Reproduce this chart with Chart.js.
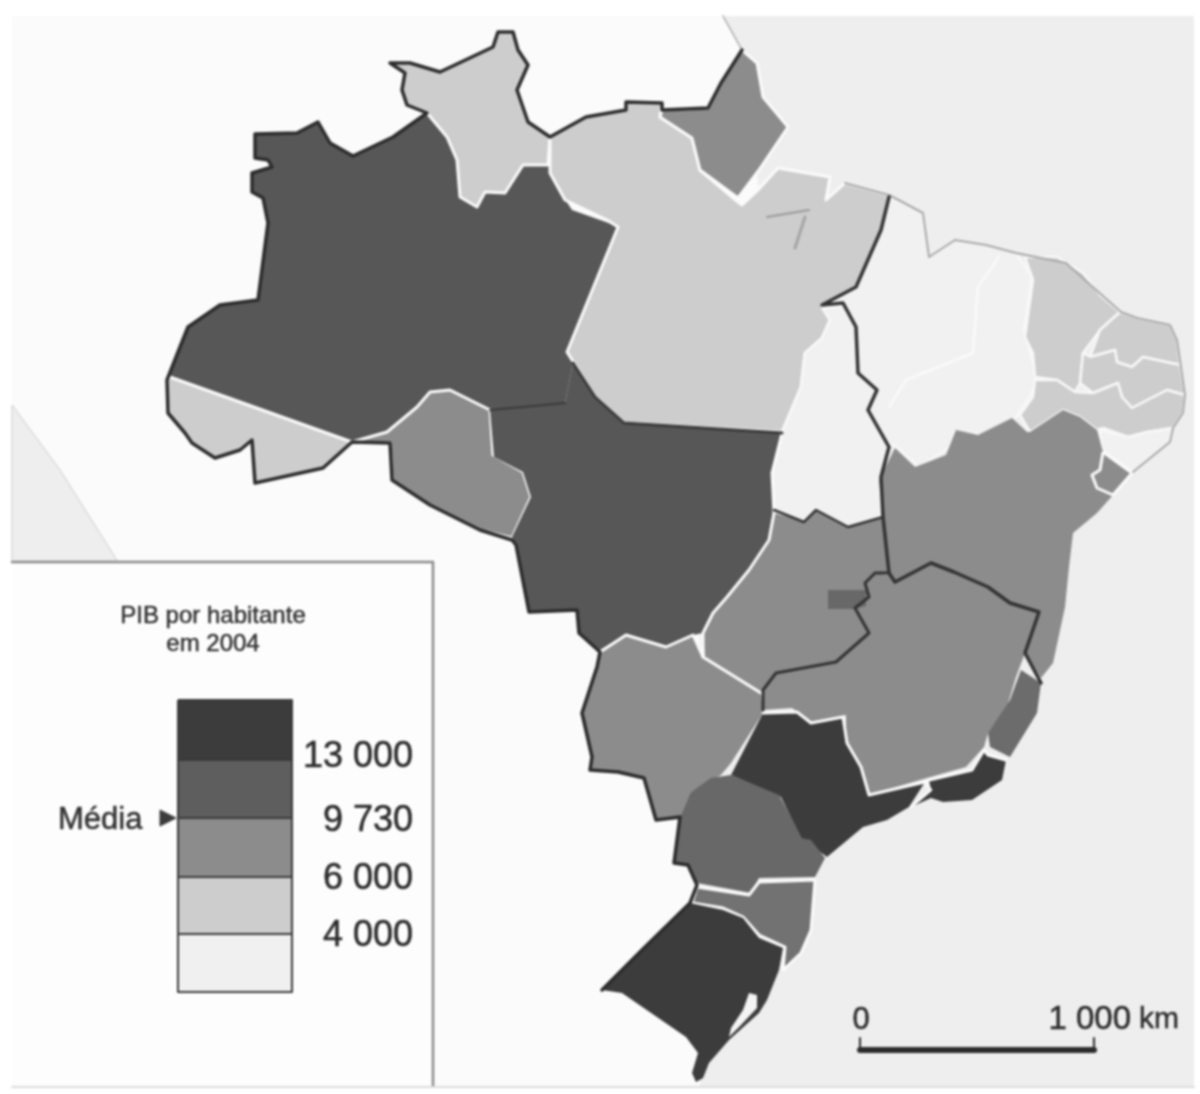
<!DOCTYPE html>
<html>
<head>
<meta charset="utf-8">
<title>PIB por habitante em 2004</title>
<style>
body { margin: 0; background: #fff; }
#mapa { display: block; width: 1200px; height: 1094px; filter: blur(1px); }
</style>
<script src="https://cdn.jsdelivr.net/npm/chart.js@4"></script>
</head>
<body>
<div id="mapa"><canvas id="chartMapa"></canvas></div>
<script>
// outlines, in picture units
const terra = [[12,16],[1194,16],[1194,1087],[12,1087]];
const oceano = [[723,16],[742,50],[760,200],[700,400],[700,1087],[1194,1087],[1194,16]];
const pacifico = [[12,405],[60,470],[118,562],[12,562]];
const caixaLegenda = [[12,562],[433,562],[433,1086],[12,1086]];
const amazonas = [[255,134],[297,133],[318,122],[330,143],[353,156],[393,137],[427,113],[447,137],[457,160],[460,197],[477,207],[485,192],[505,193],[523,165],[548,165],[557,187],[572,210],[620,227],[567,353],[573,363],[565,403],[490,410],[450,390],[430,392],[417,407],[387,432],[352,442],[170,377],[180,347],[188,327],[220,305],[258,300],[268,223],[263,198],[252,192],[252,173],[272,167],[268,160],[255,158]];
const roraima = [[427,113],[407,105],[402,90],[405,73],[390,63],[410,63],[440,72],[493,47],[498,32],[513,32],[518,50],[528,65],[517,90],[528,122],[550,137],[548,165],[523,165],[505,193],[485,192],[477,207],[460,197],[457,160],[447,137]];
const acre = [[170,377],[352,442],[323,468],[255,483],[252,440],[240,450],[215,458],[192,443],[185,433],[168,413],[167,380]];
const rondonia = [[352,442],[387,432],[417,407],[430,392],[450,390],[490,410],[493,455],[523,472],[531,497],[512,538],[480,530],[430,505],[392,480],[390,443]];
const para = [[550,137],[586,117],[626,110],[626,102],[662,103],[660,117],[692,138],[700,170],[738,202],[742,205],[758,190],[778,168],[830,177],[826,200],[845,183],[889,195],[881,230],[856,287],[822,305],[830,320],[822,338],[805,353],[801,387],[782,432],[624,423],[595,397],[574,363],[567,352],[618,227],[607,220],[565,200],[550,173]];
const amapa = [[660,117],[662,110],[708,108],[721,83],[742,50],[757,63],[763,97],[788,127],[759,170],[738,198],[700,170],[692,138]];
const maranhao = [[889,197],[923,213],[929,257],[955,240],[986,245],[1016,253],[1032,277],[1024,330],[1037,377],[1032,393],[1016,417],[982,435],[955,432],[950,447],[919,467],[898,448],[877,437],[868,410],[877,390],[858,373],[856,327],[843,303],[822,305],[856,287],[881,230]];
const tocantins = [[822,308],[843,305],[856,327],[858,373],[877,390],[868,410],[889,447],[881,480],[883,517],[848,527],[816,510],[804,522],[774,510],[772,473],[782,433],[801,387],[805,353],[822,338],[830,320]];
const ceara = [[1025,257],[1057,257],[1083,273],[1100,295],[1120,312],[1100,330],[1083,353],[1080,383],[1075,392],[1057,380],[1035,377],[1033,353],[1025,337],[1033,280]];
const rioGrandeNorte = [[1120,312],[1137,318],[1170,325],[1177,340],[1180,365],[1143,357],[1132,367],[1117,362],[1115,350],[1090,357],[1100,330]];
const paraiba = [[1090,357],[1115,350],[1117,362],[1132,367],[1143,357],[1180,365],[1185,395],[1167,390],[1132,408],[1122,397],[1118,383],[1093,393],[1080,383],[1083,353]];
const pernambuco = [[1035,380],[1057,380],[1075,392],[1093,393],[1118,383],[1122,397],[1132,408],[1167,390],[1185,395],[1183,413],[1173,428],[1147,432],[1128,437],[1103,428],[1097,430],[1080,417],[1063,410],[1030,432],[1020,415],[1033,397]];
const alagoas = [[1100,430],[1128,437],[1147,432],[1172,428],[1170,442],[1133,472],[1102,450]];
const sergipe = [[1103,452],[1132,473],[1113,495],[1097,488],[1092,475],[1100,470]];
const bahia = [[1030,432],[1063,410],[1080,417],[1097,430],[1103,452],[1100,470],[1092,475],[1097,488],[1113,495],[1097,513],[1073,533],[1069,567],[1065,607],[1053,663],[1041,678],[1025,653],[1039,612],[1010,603],[988,587],[954,572],[931,563],[895,582],[889,573],[885,557],[883,517],[879,480],[895,448],[915,467],[946,455],[956,430],[978,435],[1012,418],[1027,432]];
const minas = [[889,575],[895,582],[931,563],[954,572],[988,587],[1010,603],[1039,612],[1025,653],[1016,677],[1006,710],[988,733],[984,747],[966,767],[927,778],[869,795],[861,765],[846,747],[846,715],[812,722],[792,708],[763,710],[763,690],[776,673],[836,662],[869,633],[855,608],[869,597],[865,583],[875,573]];
const goias = [[774,513],[806,522],[816,510],[848,527],[883,518],[889,573],[875,573],[865,583],[869,597],[855,608],[869,633],[836,662],[776,673],[761,692],[705,657],[703,633],[713,613],[727,597],[749,570],[769,540]];
const distritoFederal = [[828,590],[866,590],[866,606],[855,609],[828,609]];
const matoGrosso = [[573,363],[595,397],[624,423],[782,433],[772,473],[774,513],[769,540],[749,570],[727,597],[713,613],[703,633],[693,635],[666,647],[626,635],[600,650],[579,633],[577,610],[529,612],[516,545],[512,537],[531,497],[523,472],[494,457],[490,410],[565,403]];
const matoGrossoSul = [[600,652],[626,635],[666,647],[693,635],[703,657],[761,693],[763,713],[731,763],[721,775],[690,793],[680,817],[656,820],[644,778],[618,772],[590,770],[592,757],[582,713],[597,667]];
const saoPaulo = [[763,713],[797,712],[811,723],[843,717],[847,743],[861,767],[869,795],[925,782],[909,807],[887,820],[863,827],[827,857],[801,838],[781,797],[731,775]];
const rioDeJaneiro = [[929,780],[972,770],[984,750],[988,755],[1006,760],[1002,780],[972,800],[943,802],[931,798],[911,807],[931,790]];
const espiritoSanto = [[1021,670],[1041,683],[1037,713],[1010,757],[990,747],[988,733],[1010,700]];
const parana = [[731,775],[779,795],[791,817],[801,838],[811,840],[825,858],[815,877],[759,878],[751,893],[697,883],[688,865],[674,863],[680,817],[690,793],[711,778]];
const santaCatarina = [[697,887],[749,895],[759,882],[815,880],[811,930],[801,953],[783,970],[785,947],[759,935],[743,917],[723,908],[692,903]];
const rioGrandeSul = [[690,903],[723,910],[743,918],[759,938],[783,948],[779,970],[767,1000],[759,1013],[729,1040],[709,1063],[703,1078],[696,1082],[692,1073],[698,1053],[686,1037],[622,993],[602,990],[642,950]];
const lagoa = [[749,993],[757,995],[757,1008],[741,1025],[729,1037],[731,1028],[743,1010]];

// borders
const fronteira = [[602,990],[642,950],[690,903],[697,885],[688,865],[674,863],[680,817],[656,820],[644,778],[618,772],[590,770],[592,757],[582,713],[597,667],[600,652],[579,633],[577,610],[529,612],[516,545],[512,540],[480,530],[430,505],[392,480],[390,443],[352,442],[323,468],[255,483],[252,440],[240,450],[215,458],[192,443],[185,433],[168,413],[167,380],[180,347],[188,327],[220,305],[258,300],[268,223],[263,198],[252,192],[252,173],[272,167],[268,160],[255,158],[255,134],[297,133],[318,122],[330,143],[353,156],[393,137],[427,113],[407,105],[402,90],[405,73],[390,63],[410,63],[440,72],[493,47],[498,32],[513,32],[518,50],[528,65],[517,90],[528,122],[550,137],[586,117],[626,110],[626,102],[662,103],[662,110],[708,108],[721,83],[742,50]];
const limiteNordeste = [[889,197],[881,230],[856,287],[822,305],[843,303],[856,327],[858,373],[877,390],[868,410],[889,447],[881,477],[883,517],[889,573],[895,582],[931,563],[954,572],[988,587],[1010,603],[1039,612],[1025,653],[1041,683]];
const limiteGoias = [[889,573],[875,573],[865,583],[869,597],[855,608],[869,633],[836,662],[776,673],[763,690],[763,710]];
const limiteTocantins = [[774,510],[804,522],[816,510],[848,527],[883,517]];
const limitePara = [[573,363],[595,397],[624,423],[782,433]];
const limiteAmazonas = [[490,410],[565,403]];
const brancoMatoGrossoSul = [[600,652],[626,635],[666,647],[693,635],[703,657],[761,693]];
const brancoGoias = [[782,433],[772,473],[774,513],[769,540],[749,570],[727,597],[713,613],[703,633],[703,657]];
const brancoSaoPaulo = [[763,713],[797,712],[811,723],[843,717],[847,743],[861,767],[869,795],[925,782],[929,780],[972,770],[984,750],[988,755],[1006,760]];
const brancoRio = [[925,782],[931,790],[911,807]];
const brancoPiaui = [[999,257],[978,287],[973,353],[906,380],[889,407]];
const costa = [[723,16],[742,50]];
const costaNordeste = [[845,183],[889,195],[923,213],[929,257],[955,240],[986,245],[1016,253],[1066,263],[1104,297],[1121,312],[1137,318],[1170,325],[1177,340],[1185,395],[1183,413],[1173,428],[1170,442],[1133,472]];
const rioPara = [[767,217],[809,210]];
const rioTocantins = [[805,217],[795,248]];

// legend
const legendaLimites = [700,760,818,877,934,992];
const legendaCores = ["#3c3c3c","#5e5e5e","#8c8c8c","#cdcdcd","#f0f0f0"];
const legendaValores = ["13 000","9 730","6 000","4 000"];
const setaMedia = [[160,810],[176,818],[160,826]];
const escala = [[860,1038],[860,1050],[1094,1050],[1094,1038]];
const quadroLegenda = [[12,562],[433,562],[433,1086]];
const linhaBase = [[12,1087],[1194,1087]];

const ESCURO = "#3c3c3c", MEDIO_ESCURO = "#575757", MEDIO = "#8c8c8c", CLARO = "#cdcdcd", PALIDO = "#f1f1f1";
const BRANCO = "#fbfbfb";

function aXY(pontos) { return pontos.map(p => ({ x: p[0], y: p[1] })); }

function area(pontos, cor, borda, largura) {
    return {
        data: aXY(pontos.concat([pontos[0]])),
        showLine: true, pointRadius: 0,
        areaColor: cor,
        borderColor: borda === undefined ? BRANCO : borda,
        borderWidth: largura === undefined ? 3 : largura,
        borderJoinStyle: "round"
    };
}

function linha(pontos, cor, largura) {
    return {
        data: aXY(pontos), showLine: true, pointRadius: 0,
        borderColor: cor, borderWidth: largura,
        borderJoinStyle: "round", borderCapStyle: "round"
    };
}

const datasets = [
    area(terra, "#fbfbfb", "transparent", 0),
    area(oceano, "#eeeeee", "transparent", 0),
    area(pacifico, "#eeeeee", "#cccccc", 1),
    area(caixaLegenda, "#fdfdfd", "transparent", 0),
    area(amazonas, MEDIO_ESCURO, "transparent", 0),
    area(roraima, CLARO),
    area(acre, CLARO),
    area(rondonia, MEDIO),
    area(para, CLARO),
    area(amapa, MEDIO),
    area(maranhao, PALIDO, "#f8f8f8", 2.5),
    area(tocantins, PALIDO, "#f8f8f8", 2.5),
    area(ceara, CLARO, "#f8f8f8", 2.5),
    area(rioGrandeNorte, CLARO, "#f8f8f8", 2.5),
    area(paraiba, CLARO, "#f8f8f8", 2.5),
    area(pernambuco, CLARO, "#f8f8f8", 2.5),
    area(alagoas, PALIDO, "#f8f8f8", 2.5),
    area(bahia, MEDIO, "transparent", 0),
    area(sergipe, MEDIO),
    area(goias, MEDIO, "transparent", 0),
    area(minas, MEDIO, "transparent", 0),
    area(distritoFederal, "#686868", "transparent", 0),
    area(matoGrosso, MEDIO_ESCURO, "transparent", 0),
    area(matoGrossoSul, MEDIO, "transparent", 0),
    area(saoPaulo, ESCURO, "transparent", 0),
    area(rioDeJaneiro, ESCURO, "transparent", 0),
    area(espiritoSanto, "#6c6c6c", "transparent", 0),
    area(parana, "#686868", "transparent", 0),
    area(santaCatarina, "#727272"),
    area(rioGrandeSul, ESCURO, "transparent", 0),
    area(lagoa, "#f4f4f4", "transparent", 0),
    linha(rioPara, "#9a9a9a", 2),
    linha(rioTocantins, "#a5a5a5", 3),
    linha(brancoPiaui, "#fafafa", 2.5),
    linha(brancoGoias, BRANCO, 3),
    linha(brancoMatoGrossoSul, BRANCO, 3),
    linha(brancoSaoPaulo, BRANCO, 3),
    linha(brancoRio, BRANCO, 2.5),
    linha(costa, "#a8a8a8", 1.5),
    linha(costaNordeste, "#a8a8a8", 2),
    linha(fronteira, "#2c2c2c", 3.5),
    linha(limiteNordeste, "#333333", 3.5),
    linha(limiteGoias, "#333333", 3),
    linha(limiteTocantins, "#333333", 2.5),
    linha(limitePara, "#3a3a3a", 3),
    linha(limiteAmazonas, "#3a3a3a", 2),
    linha(quadroLegenda, "#8a8a8a", 2.5),
    linha(linhaBase, "#dcdcdc", 2),
    area(setaMedia, "#3c3c3c", "#3c3c3c", 1)
];

// legend cells, from the class limits
legendaCores.forEach((cor, i) => {
    const topo = legendaLimites[i], base = legendaLimites[i + 1];
    datasets.push(area([[178, topo], [292, topo], [292, base], [178, base]], cor, "#3a3a3a", 2));
});
datasets.push(linha(escala, "#2c2c2c", 2));
datasets.push(linha([escala[1], escala[2]], "#2c2c2c", 6));
datasets.forEach((d, i) => { d.order = -i; });

const textos = [
    { t: "PIB por habitante", x: 213, y: 616, fonte: "24px", al: "center", cor: "#333" },
    { t: "em 2004", x: 213, y: 644, fonte: "24px", al: "center", cor: "#333" },
    { t: "Média", x: 58, y: 820, fonte: "31px", al: "left", cor: "#333" },
    { t: "0", x: 861, y: 1020, fonte: "31px", al: "center", cor: "#2c2c2c" },
    { t: "1 000", x: 1131, y: 1020, fonte: "33px", al: "right", cor: "#2c2c2c" },
    { t: "km", x: 1139, y: 1020, fonte: "30px", al: "left", cor: "#2c2c2c" }
];
const posicoesValores = [757, 821, 879, 936];
legendaValores.forEach((t, i) => {
    textos.push({ t, x: 413, y: posicoesValores[i], fonte: "36px", al: "right", cor: "#2c2c2c" });
});

const pluginMapa = {
    id: "pluginMapa",
    beforeDatasetDraw(chart, args) {
        const ds = chart.data.datasets[args.index];
        if (!ds.areaColor) return;
        const ctx = chart.ctx;
        ctx.save();
        ctx.beginPath();
        chart.getDatasetMeta(args.index).data.forEach((p, i) => {
            if (i === 0) ctx.moveTo(p.x, p.y); else ctx.lineTo(p.x, p.y);
        });
        ctx.closePath();
        ctx.fillStyle = ds.areaColor;
        ctx.fill();
        ctx.restore();
    },
    afterDraw(chart) {
        const ctx = chart.ctx;
        ctx.save();
        ctx.textBaseline = "middle";
        textos.forEach(l => {
            ctx.font = l.fonte + " 'Liberation Sans', Arial, sans-serif";
            ctx.textAlign = l.al;
            ctx.fillStyle = l.cor;
            ctx.strokeStyle = l.cor;
            ctx.lineWidth = 0.5;
            const x = chart.scales.x.getPixelForValue(l.x), y = chart.scales.y.getPixelForValue(l.y);
            ctx.fillText(l.t, x, y);
            ctx.strokeText(l.t, x, y);
        });
        ctx.restore();
    }
};

new Chart(document.getElementById("chartMapa").getContext("2d"), {
    type: "scatter",
    data: { datasets },
    plugins: [pluginMapa],
    options: {
        responsive: true,
        maintainAspectRatio: false,
        animation: false,
        layout: { padding: 0 },
        plugins: { legend: { display: false }, tooltip: { enabled: false } },
        scales: {
            x: { type: "linear", min: 0, max: 1200, display: false },
            y: { type: "linear", min: 0, max: 1094, reverse: true, display: false }
        }
    },
});
</script>
</body>
</html>
